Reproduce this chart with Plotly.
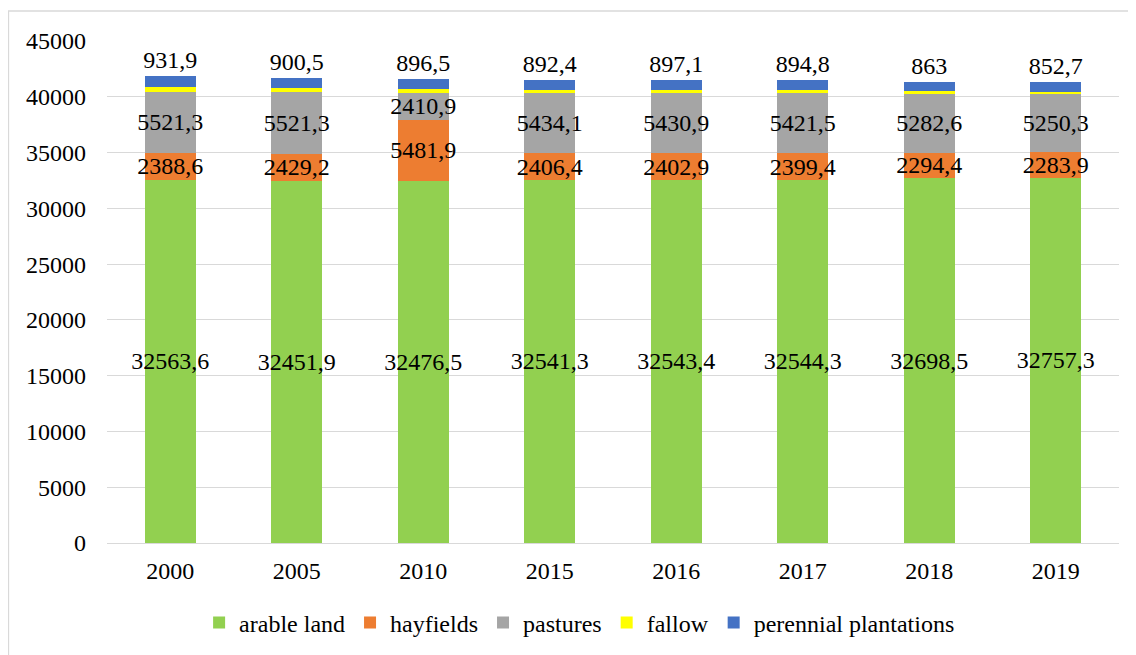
"""Land use structure, stacked bars (thousand ha)."""

import plotly.graph_objects as go

years = ["2000", "2005", "2010", "2015", "2016", "2017", "2018", "2019"]
arable = [32563.6, 32451.9, 32476.5, 32541.3, 32543.4, 32544.3, 32698.5, 32757.3]
hayfields = [2388.6, 2429.2, 5481.9, 2406.4, 2402.9, 2399.4, 2294.4, 2283.9]
pastures = [5521.3, 5521.3, 2410.9, 5434.1, 5430.9, 5421.5, 5282.6, 5250.3]
fallow = [420, 400, 290, 240, 230, 220, 200, 180]  # no labels in source
perennial = [931.9, 900.5, 896.5, 892.4, 897.1, 894.8, 863, 852.7]

COLORS = {
    "arable land": "#92D050",
    "hayfields": "#ED7D31",
    "pastures": "#A5A5A5",
    "fallow": "#FFFF00",
    "perennial plantations": "#4472C4",
}
FONT = "Liberation Serif, Times New Roman, serif"
FS = 24
W, H = 1136, 655
# page body adds an 8px offset, margins are set so the plot lands where the original is
L, R, T, B = 99, 25, 33, 120


def fmt(v):
    s = f"{v:g}"
    return s.replace(".", ",")


fig = go.Figure()
series = [
    ("arable land", arable, "inside"),
    ("hayfields", hayfields, "inside"),
    ("pastures", pastures, "inside"),
    ("fallow", fallow, None),
    ("perennial plantations", perennial, "outside"),
]
for name, vals, pos in series:
    kw = {}
    if pos:
        kw = dict(
            text=[fmt(v) for v in vals], textposition=pos,
            insidetextanchor="middle", textangle=0, constraintext="none",
            textfont=dict(family=FONT, size=FS, color="black"),
            outsidetextfont=dict(family=FONT, size=FS, color="black"),
            cliponaxis=False,
        )
    fig.add_trace(go.Bar(
        x=years, y=vals, name=name, marker_color=COLORS[name],
        marker_line_width=0, hoverinfo="x+y+name", **kw,
    ))

# outer chart frame (only left/top edges fall inside the picture)
pw, ph = W - L - R, H - T - B
fig.add_shape(
    type="rect", xref="paper", yref="paper",
    x0=(0.5 - L) / pw, x1=(W + 20 - L) / pw,
    y0=(ph + T - (H + 20)) / ph, y1=(ph + T - 3) / ph,
    line=dict(color="#D9D9D9", width=1.3), layer="below",
)

fig.update_layout(
    width=W, height=H,
    margin=dict(l=L, r=R, t=T, b=B),
    barmode="stack", bargap=0.597,
    plot_bgcolor="white", paper_bgcolor="white",
    font=dict(family=FONT, size=FS, color="black"),
    showlegend=True,
    legend=dict(
        orientation="h", x=0.467, xanchor="center", y=-0.159, yanchor="middle",
        font=dict(family=FONT, size=FS, color="black"),
        itemwidth=30, tracegroupgap=0, traceorder="normal",
    ),
    xaxis=dict(
        showgrid=False, showline=True, linecolor="#D9D9D9", linewidth=1,
        ticks="", tickfont=dict(size=FS), ticklabelstandoff=6,
    ),
    yaxis=dict(
        range=[0, 45000], dtick=5000, showgrid=True, gridcolor="#D9D9D9",
        gridwidth=1.3, zeroline=False, showline=False, ticks="",
        tickfont=dict(size=FS), ticklabelstandoff=20,
        tickformat="d",
    ),
)

fig.write_html("out.html")
